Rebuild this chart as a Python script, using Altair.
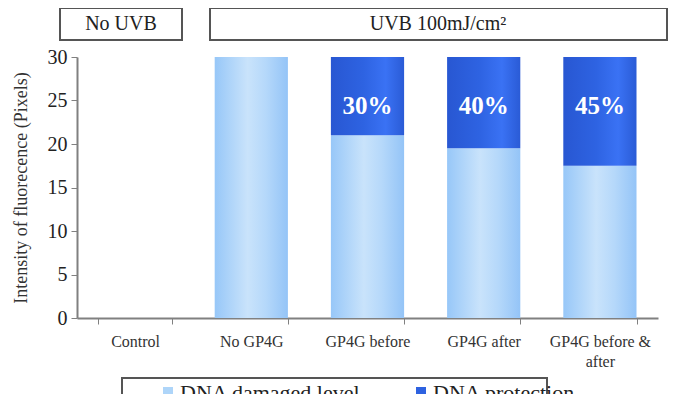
import altair as alt
import pandas as pd

categories = ["Control", "No GP4G", "GP4G before", "GP4G after", "GP4G before & after"]
damaged = [0, 30, 21, 19.5, 17.5]
protection = [0, 0, 9, 10.5, 12.5]
pct_labels = ["", "", "30%", "40%", "45%"]
label_pos = [None, None, 24.4, 24.4, 24.4]
legend_names = ["DNA damaged level", "DNA protection"]
headers = ["No UVB", "UVB 100mJ/cm\u00b2"]

FONT = "Liberation Serif"

df = pd.DataFrame({
    "cat": categories,
    "damaged": damaged,
    "protection": protection,
    "total": [a + b for a, b in zip(damaged, protection)],
    "pct": pct_labels,
    "ly": label_pos,
})

light_grad = alt.Gradient(
    gradient="linear", x1=0, x2=1, y1=0, y2=0,
    stops=[
        alt.GradientStop(color="#97c7f8", offset=0),
        alt.GradientStop(color="#c9e3fb", offset=0.45),
        alt.GradientStop(color="#b5d8fa", offset=0.7),
        alt.GradientStop(color="#94c4f7", offset=1),
    ],
)
dark_grad = alt.Gradient(
    gradient="linear", x1=0, x2=1, y1=0, y2=0,
    stops=[
        alt.GradientStop(color="#2857d2", offset=0),
        alt.GradientStop(color="#2e63e2", offset=0.45),
        alt.GradientStop(color="#3a72f4", offset=0.75),
        alt.GradientStop(color="#2a5bd6", offset=1),
    ],
)

xenc = alt.X(
    "cat:N", sort=categories,
    scale=alt.Scale(paddingInner=0.37, paddingOuter=0.185),
    axis=alt.Axis(
        title=None, labelAngle=0, tickBand="extent", tickSize=6,
        domainColor="#808080", tickColor="#808080", domainWidth=2,
        labelFont=FONT, labelFontSize=16, labelColor="#333", labelPadding=9,
        labelLineHeight=20, labelLimit=200,
        labelExpr="datum.label == 'GP4G before & after' ? ['GP4G before &', 'after'] : datum.label",
    ),
)
yscale = alt.Scale(domain=[0, 30], nice=False)
yaxis = alt.Axis(
    title="Intensity of fluorecence (Pixels)", values=[0, 5, 10, 15, 20, 25, 30],
    grid=False, tickSize=6, domainColor="#808080", tickColor="#808080", domainWidth=2,
    labelFont=FONT, labelFontSize=20, labelColor="#222", labelPadding=4,
    titleFont=FONT, titleFontSize=18, titleFontWeight="normal", titleColor="#333",
    titlePadding=17,
)

base = alt.Chart(df)
light = base.mark_bar(color=light_grad).encode(
    x=xenc, y=alt.Y("damaged:Q", scale=yscale, axis=yaxis)
)
dark = base.mark_bar(color=dark_grad).encode(
    x=alt.X("cat:N", sort=categories), y="total:Q", y2="damaged:Q"
).transform_filter("datum.protection > 0")
txt = base.mark_text(color="white", font="Times New Roman", fontSize=25, fontWeight=700).encode(
    x=alt.X("cat:N", sort=categories), y="ly:Q", text="pct:N"
).transform_filter("datum.pct != ''")

one = pd.DataFrame({"a": [0]})
hdr1 = alt.Chart(one).mark_rect(fill="white", stroke="#555", strokeWidth=2).encode(
    x=alt.value(-17), x2=alt.value(105), y=alt.value(-49), y2=alt.value(-17))
hdr2 = alt.Chart(one).mark_rect(fill="white", stroke="#555", strokeWidth=2).encode(
    x=alt.value(133), x2=alt.value(590), y=alt.value(-49), y2=alt.value(-17))
ht1 = alt.Chart(one).mark_text(font=FONT, fontSize=20, color="#222").encode(
    x=alt.value(44), y=alt.value(-33), text=alt.value(headers[0]))
ht2 = alt.Chart(one).mark_text(font=FONT, fontSize=20, color="#222").encode(
    x=alt.value(361), y=alt.value(-33), text=alt.value(headers[1]))

leg_box = alt.Chart(one).mark_rect(fill="white", stroke="#555", strokeWidth=2).encode(
    x=alt.value(45), x2=alt.value(470), y=alt.value(321), y2=alt.value(390))
leg_sq1 = alt.Chart(one).mark_rect(fill="#aed5f9").encode(
    x=alt.value(86), x2=alt.value(96), y=alt.value(330), y2=alt.value(340))
leg_sq2 = alt.Chart(one).mark_rect(fill="#2e62e0").encode(
    x=alt.value(339), x2=alt.value(349), y=alt.value(330), y2=alt.value(340))
leg_t1 = alt.Chart(one).mark_text(font=FONT, fontSize=22, color="#222", align="left", baseline="top").encode(
    x=alt.value(103), y=alt.value(326), text=alt.value(legend_names[0]))
leg_t2 = alt.Chart(one).mark_text(font=FONT, fontSize=22, color="#222", align="left", baseline="top").encode(
    x=alt.value(356), y=alt.value(326), text=alt.value(legend_names[1]))

chart = alt.layer(
    light, dark, txt, hdr1, hdr2, ht1, ht2, leg_box, leg_sq1, leg_sq2, leg_t1, leg_t2
).properties(
    width=581, height=261, autosize="none",
    padding={"left": 69, "top": 49, "right": 24, "bottom": 100},
).configure_view(stroke=None)

chart.save("out.html", embed_options={"renderer": "svg", "actions": False})
